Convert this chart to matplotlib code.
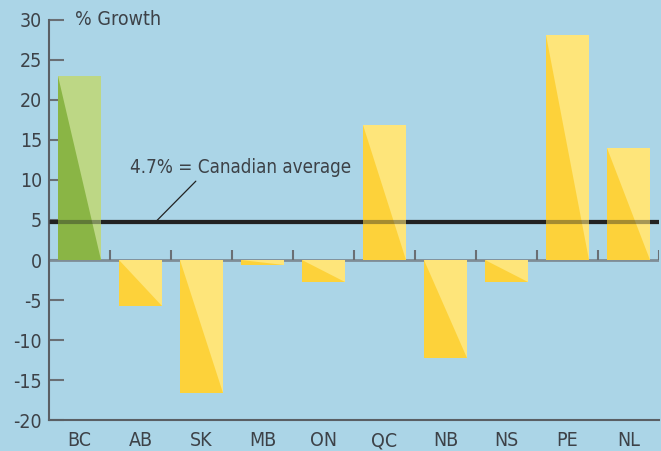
import matplotlib.pyplot as plt
import numpy as np
from matplotlib.patches import Polygon

provinces = ["BC", "AB", "SK", "MB", "ON", "QC", "NB", "NS", "PE", "NL"]
growth = [23.0, -5.7, -16.6, -0.6, -2.7, 16.9, -12.2, -2.7, 28.1, 14.0]
canada_avg = 4.7
avg_label = "4.7% = Canadian average"

bg = "#abd5e7"
dark = ["#8ab545"] + ["#fdd23a"] * 9
light = ["#bdd785"] + ["#fee57a"] * 9
text_col = "#3d4248"

plt.rcParams["font.family"] = ["DejaVu Sans"]
plt.rcParams["font.stretch"] = "condensed"
plt.rcParams["axes.unicode_minus"] = False

fig = plt.figure(figsize=(6.61, 4.51), dpi=100)
fig.patch.set_facecolor(bg)
ax = fig.add_axes([0.074, 0.0687, 0.923, 0.887])
ax.set_facecolor(bg)

x = np.arange(len(provinces))
width = 0.7
bars = ax.bar(x, growth, width=width, color=dark, zorder=3)
for b, v, c in zip(bars, growth, light):
    x0 = b.get_x()
    x1 = x0 + b.get_width()
    tri = Polygon([(x0, max(v, 0)), (x1, max(v, 0)), (x1, min(v, 0))],
                  closed=True, color=c, lw=0, zorder=3)
    ax.add_patch(tri)

# zero line and category ticks
ax.axhline(0, color="#7f8d96", lw=2, zorder=2)
ax.vlines(x + 0.5, 0, 1.2, color="#6a6f74", lw=1.5, zorder=2)

# average line (visible faintly through bars)
ax.axhline(canada_avg, color="#222222", lw=3, zorder=2)
ax.axhline(canada_avg, color="#222222", lw=3, alpha=0.4, zorder=4)
ax.annotate("", xy=(1.24, canada_avg), xytext=(1.94, 10.1),
            arrowprops=dict(arrowstyle="-", color="#222222", lw=0.9))
ax.text(0.83, 11.6, avg_label, fontsize=13.5, color=text_col, ha="left", va="center")

ax.text(0.043, 1.0, "% Growth", transform=ax.transAxes, fontsize=14,
        color=text_col, ha="left", va="center")

ax.set_xlim(-0.5, 9.5)
ax.set_ylim(-20, 30)
ax.set_yticks(np.arange(-20, 31, 5))
ax.set_xticks(x)
ax.set_xticklabels(provinces)
ax.tick_params(axis="y", direction="in", length=11, width=1.5, color="#6a6f74",
               labelsize=14, labelcolor=text_col, pad=5)
ax.tick_params(axis="x", length=0, labelsize=14, labelcolor=text_col, pad=8)
for s in ["top", "right"]:
    ax.spines[s].set_visible(False)
ax.spines["left"].set_color("#5a5f64")
ax.spines["left"].set_linewidth(1.5)
ax.spines["bottom"].set_color("#5a5f64")
ax.spines["bottom"].set_linewidth(1.5)

fig.savefig("out.png", dpi=100, facecolor=bg)
